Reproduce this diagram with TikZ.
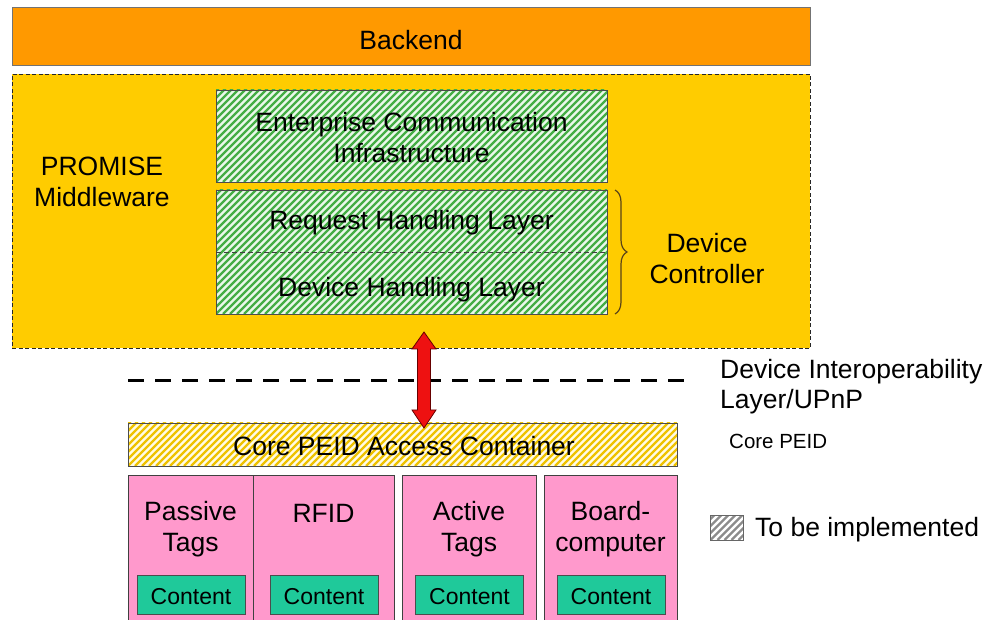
\documentclass[tikz,border=0pt]{standalone}
\usepackage{fontspec}
\setmainfont{Liberation Sans}
\usetikzlibrary{calc,decorations.pathreplacing}
\definecolor{backorange}{HTML}{FF9900}
\definecolor{midyellow}{HTML}{FFCC00}
\definecolor{hgreen}{HTML}{45AD45}
\definecolor{hgreenbg}{HTML}{EAF8EA}
\definecolor{hyellow}{HTML}{EEC200}
\definecolor{hyellowbg}{HTML}{FFFBE6}
\definecolor{peidpink}{HTML}{FF99CC}
\definecolor{contentgreen}{HTML}{1FC99A}
\definecolor{arrowred}{HTML}{EE1111}
\definecolor{bracecol}{HTML}{5A4418}
\tikzset{
  hatch/.style={path picture={
    \foreach \s in {-420,-413,...,600}
      \draw[#1,line width=2.3pt] ([xshift=\s pt]path picture bounding box.south west) -- ++(300pt,300pt);}},
  box/.style={draw=black!70,line width=0.6pt,inner sep=0pt,outer sep=0pt,align=center,font=\fontsize{26.5}{31}\selectfont},
  greenbox/.style={box,fill=hgreenbg,hatch=hgreen},
  pinkbox/.style={box,fill=peidpink,anchor=north west,draw=black!75},
  contentbox/.style={box,fill=contentgreen,minimum width=108pt,minimum height=39pt,font=\fontsize{23}{27}\selectfont},
  lbl/.style={inner sep=0pt,align=center,font=\fontsize{26.5}{31}\selectfont},
  lbll/.style={inner sep=0pt,align=left,font=\fontsize{26.5}{30}\selectfont},
}
\begin{document}
\begin{tikzpicture}[x=1pt,y=-1pt]
\useasboundingbox (0,0) rectangle (986,620);
% Backend
\node[box,fill=backorange,draw=black!55,minimum width=798pt,minimum height=58pt] (backend) at (411,36) {};
\node[lbl] (backendlbl) at (411,40) {Backend};
% Middleware
\node[box,fill=midyellow,draw=black!85,line width=0.9pt,dash pattern=on 4pt off 2.5pt,minimum width=798pt,minimum height=274pt] (mw) at (411,211) {};
\node[lbl] (mwlbl) at (102,182) {PROMISE\\Middleware};
% Enterprise
\node[greenbox,minimum width=391pt,minimum height=92pt] (eci) at (411.5,136) {};
\node[lbl] (ecilbl) at (411.5,138) {Enterprise Communication\\Infrastructure};
% Request / Device handling
\node[greenbox,minimum width=391pt,minimum height=124pt] (dc) at (411.5,252) {};
\draw[black!75,line width=0.7pt,dash pattern=on 5pt off 3pt] (dc.west) -- (dc.east);
\node[lbl] (rhl) at (411.5,222.5) {Request Handling Layer};
\node[lbl] (dhl) at (411.5,290) {Device Handling Layer};
% brace
\draw[bracecol,line width=1.2pt,decorate,decoration={brace,amplitude=12pt,aspect=0.5}] ($(dc.north east)+(8,0)$) -- ($(dc.south east)+(8,0)$);
\node[lbl] (dclbl) at (707,259) {Device\\Controller};
% Interop line
\coordinate (il1) at (128,381);
\coordinate (il2) at (693,381);
\draw[black,line width=3pt,dash pattern=on 16pt off 11pt] (il1) -- (il2);
\node[lbll,anchor=north west] (illbl) at (720,359) {Device Interoperability\\Layer/UPnP};
\node[inner sep=0pt,font=\fontsize{20.5}{24}\selectfont,anchor=west] (cplbl) at (729,441) {Core PEID};
% Core PEID Access Container
\node[box,fill=hyellowbg,hatch=hyellow,minimum width=549pt,minimum height=43pt] (cpac) at (402.5,444.5) {};
\node[lbl] (cpaclbl) at (404,446.5) {Core PEID Access Container};
% Pink PEID boxes
\node[pinkbox,minimum width=125pt,minimum height=150pt] (passive) at (128,475) {};
\node[pinkbox,minimum width=141pt,minimum height=150pt] (rfid) at (253,475) {};
\node[pinkbox,minimum width=134pt,minimum height=150pt] (active) at (402,475) {};
\node[pinkbox,minimum width=133pt,minimum height=150pt] (board) at (544,475) {};
\node[lbl] (passivelbl) at (190.5,529) {Passive\\Tags};
\node[lbl] (rfidlbl) at (323.5,513) {RFID};
\node[lbl] (activelbl) at (469,529) {Active\\Tags};
\node[lbl] (boardlbl) at (610.5,529) {Board-\\computer};
\node[contentbox] (c1) at (191,595) {};
\node[contentbox] (c2) at (324,595) {};
\node[contentbox] (c3) at (469.5,595) {};
\node[contentbox] (c4) at (611,595) {};
\foreach \c in {c1,c2,c3,c4}
  \node[inner sep=0pt,font=\fontsize{23}{27}\selectfont] (\c lbl) at ($(\c)+(0,1.5)$) {Content};
% red double arrow
\coordinate (atop) at (424,332);
\coordinate (abot) at (424,428);
\draw[fill=arrowred,draw=black!60!red,line width=0.8pt,line join=miter]
  (atop) -- ($(atop)+(12,17)$) -- ($(atop)+(6.5,17)$) -- ($(abot)+(6.5,-18)$) -- ($(abot)+(12,-18)$)
  -- (abot) -- ($(abot)+(-12,-18)$) -- ($(abot)+(-6.5,-18)$) -- ($(atop)+(-6.5,17)$) -- ($(atop)+(-12,17)$) -- cycle;
% legend
\node[box,fill=white,hatch=black!45,draw=black!60,minimum width=33pt,minimum height=25pt] (leg) at (727,527.5) {};
\node[lbl,anchor=west] (leglbl) at (755,530) {To be implemented};
\end{tikzpicture}
\end{document}
